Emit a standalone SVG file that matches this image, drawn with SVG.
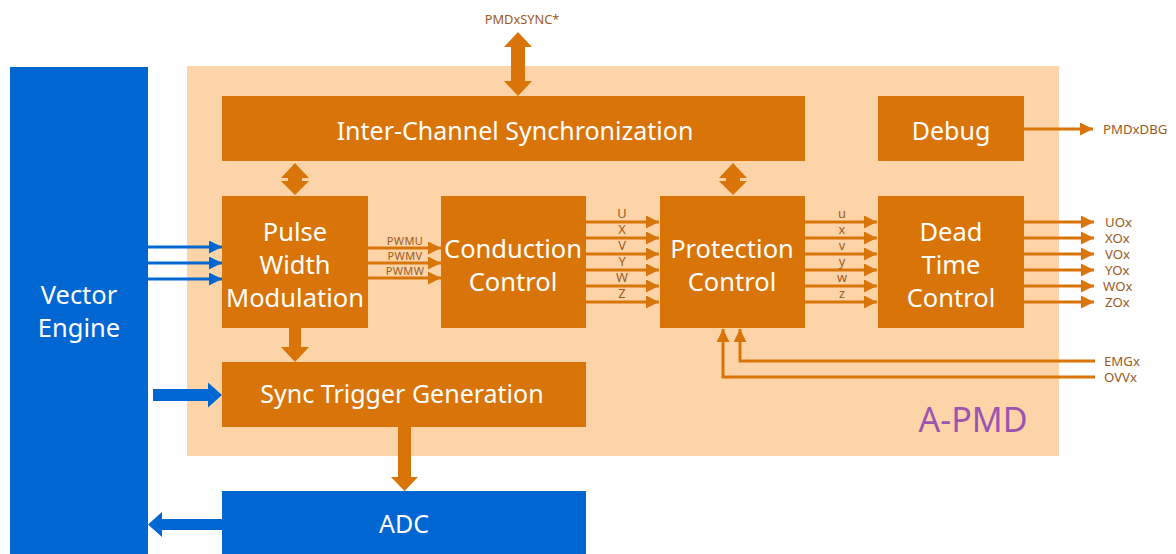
<svg xmlns="http://www.w3.org/2000/svg" width="1176" height="554" viewBox="0 0 1176 554">
<defs>
<style>
.org{fill:#D97408}
.blu{fill:#0066D2}
.big{font-family:"Noto Sans","Open Sans",sans-serif;font-size:25.5px;fill:#FFFFFF;text-anchor:middle}
.mid{font-family:"Noto Sans","Open Sans",sans-serif;font-size:25px;fill:#FFFFFF;text-anchor:middle}
.sm{font-family:"Noto Sans","Open Sans",sans-serif;font-size:12.8px;fill:#9A5A1E;text-anchor:middle}
.pw{font-family:"Noto Sans","Open Sans",sans-serif;font-size:11px;fill:#9A5A1E;text-anchor:middle;letter-spacing:0.4px}
.out{font-family:"Noto Sans","Open Sans",sans-serif;font-size:13.2px;fill:#9A5A1E}
.ol{stroke:#D97408;stroke-width:3;fill:none}
.bl{stroke:#0066D2;stroke-width:3;fill:none}
</style>
<marker id="ah" markerUnits="userSpaceOnUse" markerWidth="14" markerHeight="14" refX="13" refY="6.5" orient="auto">
<path d="M0,0 L13,6.5 L0,13 z" fill="#D97408"/>
</marker>
<marker id="bh" markerUnits="userSpaceOnUse" markerWidth="14" markerHeight="14" refX="13" refY="6.5" orient="auto">
<path d="M0,0 L13,6.5 L0,13 z" fill="#0066D2"/>
</marker>
</defs>
<rect width="1176" height="554" fill="#FFFFFF"/>
<g id="apmd">
<rect x="187" y="66" width="872" height="390" fill="#FDD4A8"/>
<text x="973" y="432" font-family="Noto Sans, Open Sans, sans-serif" font-size="34" fill="#9B55B0" text-anchor="middle">A-PMD</text>
</g>
<g id="vector-engine">
<rect class="blu" x="10" y="67" width="138" height="487"/>
<text class="big" x="79" y="304">Vector</text>
<text class="big" x="79" y="337">Engine</text>
</g>
<g id="inter-channel">
<rect class="org" x="222" y="96" width="583" height="65"/>
<text class="mid" x="515" y="140">Inter-Channel Synchronization</text>
</g>
<g id="debug">
<rect class="org" x="878" y="96" width="146" height="65"/>
<text class="mid" x="951" y="140">Debug</text>
</g>
<g id="pwm">
<rect class="org" x="222" y="196" width="146" height="132"/>
<text class="big" x="295" y="241">Pulse</text>
<text class="big" x="295" y="274">Width</text>
<text class="big" x="295" y="307">Modulation</text>
</g>
<g id="conduction">
<rect class="org" x="441" y="196" width="145" height="132"/>
<text class="big" x="513" y="258">Conduction</text>
<text class="big" x="513" y="291">Control</text>
</g>
<g id="protection">
<rect class="org" x="660" y="196" width="145" height="132"/>
<text class="big" x="732" y="258">Protection</text>
<text class="big" x="732" y="291">Control</text>
</g>
<g id="deadtime">
<rect class="org" x="878" y="196" width="146" height="132"/>
<text class="big" x="951" y="241">Dead</text>
<text class="big" x="951" y="274">Time</text>
<text class="big" x="951" y="307">Control</text>
</g>
<g id="sync-trigger">
<rect class="org" x="222" y="362" width="364" height="65"/>
<text class="mid" x="402" y="403">Sync Trigger Generation</text>
</g>
<g id="adc">
<rect class="blu" x="222" y="491" width="364" height="63"/>
<text class="mid" x="404" y="533">ADC</text>
</g>
<g id="connectors">
<!-- PMDxSYNC -->
<polygon class="org" points="518,32 532,47 525,47 525,81 532,81 518,96 504,81 511,81 511,47 504,47"/>
<text class="sm" x="522" y="24">PMDxSYNC*</text>
<!-- small double arrows -->
<polygon class="org" points="295,163 309,178 302,178 302,181 309,181 295,195 281,181 288,181 288,178 281,178"/>
<polygon class="org" points="733,163 747,178 740,178 740,181 747,181 733,195 719,181 726,181 726,178 719,178"/>
<!-- PWM to sync trigger -->
<polygon class="org" points="289,328 301,328 301,347 309,347 295,362 281,347 289,347"/>
<!-- sync trigger to ADC -->
<polygon class="org" points="398,427 411,427 411,477 418,477 404.5,491 391,477 398,477"/>
<!-- vector engine to sync trigger -->
<polygon class="blu" points="153,389 208,389 208,382.5 222,395 208,407.5 208,401 153,401"/>
<!-- ADC to vector engine -->
<polygon class="blu" points="222,519 162,519 162,512 148,524.5 162,537 162,530 222,530"/>
<!-- vector engine to PWM -->
<line class="bl" x1="148" y1="247" x2="222" y2="247" marker-end="url(#bh)"/>
<line class="bl" x1="148" y1="263" x2="222" y2="263" marker-end="url(#bh)"/>
<line class="bl" x1="148" y1="279" x2="222" y2="279" marker-end="url(#bh)"/>
<!-- PWM to conduction -->
<line class="ol" x1="368" y1="248" x2="441" y2="248" marker-end="url(#ah)"/>
<line class="ol" x1="368" y1="263" x2="441" y2="263" marker-end="url(#ah)"/>
<line class="ol" x1="368" y1="278" x2="441" y2="278" marker-end="url(#ah)"/>
<text class="pw" x="405" y="245">PWMU</text>
<text class="pw" x="405" y="260">PWMV</text>
<text class="pw" x="405" y="275">PWMW</text>
<!-- conduction to protection -->
<line class="ol" x1="586" y1="222" x2="659" y2="222" marker-end="url(#ah)"/>
<line class="ol" x1="586" y1="238" x2="659" y2="238" marker-end="url(#ah)"/>
<line class="ol" x1="586" y1="254" x2="659" y2="254" marker-end="url(#ah)"/>
<line class="ol" x1="586" y1="270" x2="659" y2="270" marker-end="url(#ah)"/>
<line class="ol" x1="586" y1="286" x2="659" y2="286" marker-end="url(#ah)"/>
<line class="ol" x1="586" y1="302" x2="659" y2="302" marker-end="url(#ah)"/>
<text class="sm" x="622" y="218">U</text>
<text class="sm" x="622" y="234">X</text>
<text class="sm" x="622" y="250">V</text>
<text class="sm" x="622" y="266">Y</text>
<text class="sm" x="622" y="282">W</text>
<text class="sm" x="622" y="298">Z</text>
<!-- protection to dead time -->
<line class="ol" x1="805" y1="222" x2="877" y2="222" marker-end="url(#ah)"/>
<line class="ol" x1="805" y1="238" x2="877" y2="238" marker-end="url(#ah)"/>
<line class="ol" x1="805" y1="254" x2="877" y2="254" marker-end="url(#ah)"/>
<line class="ol" x1="805" y1="270" x2="877" y2="270" marker-end="url(#ah)"/>
<line class="ol" x1="805" y1="286" x2="877" y2="286" marker-end="url(#ah)"/>
<line class="ol" x1="805" y1="302" x2="877" y2="302" marker-end="url(#ah)"/>
<text class="sm" x="842" y="218">u</text>
<text class="sm" x="842" y="234">x</text>
<text class="sm" x="842" y="250">v</text>
<text class="sm" x="842" y="266">y</text>
<text class="sm" x="842" y="282">w</text>
<text class="sm" x="842" y="298">z</text>
<!-- dead time outputs -->
<line class="ol" x1="1024" y1="222" x2="1094" y2="222" marker-end="url(#ah)"/>
<line class="ol" x1="1024" y1="238" x2="1094" y2="238" marker-end="url(#ah)"/>
<line class="ol" x1="1024" y1="254" x2="1094" y2="254" marker-end="url(#ah)"/>
<line class="ol" x1="1024" y1="270" x2="1094" y2="270" marker-end="url(#ah)"/>
<line class="ol" x1="1024" y1="286" x2="1094" y2="286" marker-end="url(#ah)"/>
<line class="ol" x1="1024" y1="302" x2="1094" y2="302" marker-end="url(#ah)"/>
<text class="out" x="1105" y="226.5">UOx</text>
<text class="out" x="1105" y="242.5">XOx</text>
<text class="out" x="1105" y="258.5">VOx</text>
<text class="out" x="1105" y="274.5">YOx</text>
<text class="out" x="1103" y="290.5">WOx</text>
<text class="out" x="1105" y="306.5">ZOx</text>
<!-- debug output -->
<line class="ol" x1="1024" y1="129" x2="1093" y2="129" marker-end="url(#ah)"/>
<text class="out" x="1103" y="133.5">PMDxDBG</text>
<!-- EMGx / OVVx -->
<polyline class="ol" points="1095,361 740,361 740,329" marker-end="url(#ah)"/>
<polyline class="ol" points="1095,377 723,377 723,329" marker-end="url(#ah)"/>
<text class="out" x="1104" y="365.5">EMGx</text>
<text class="out" x="1104" y="381.5">OVVx</text>
</g>
</svg>
